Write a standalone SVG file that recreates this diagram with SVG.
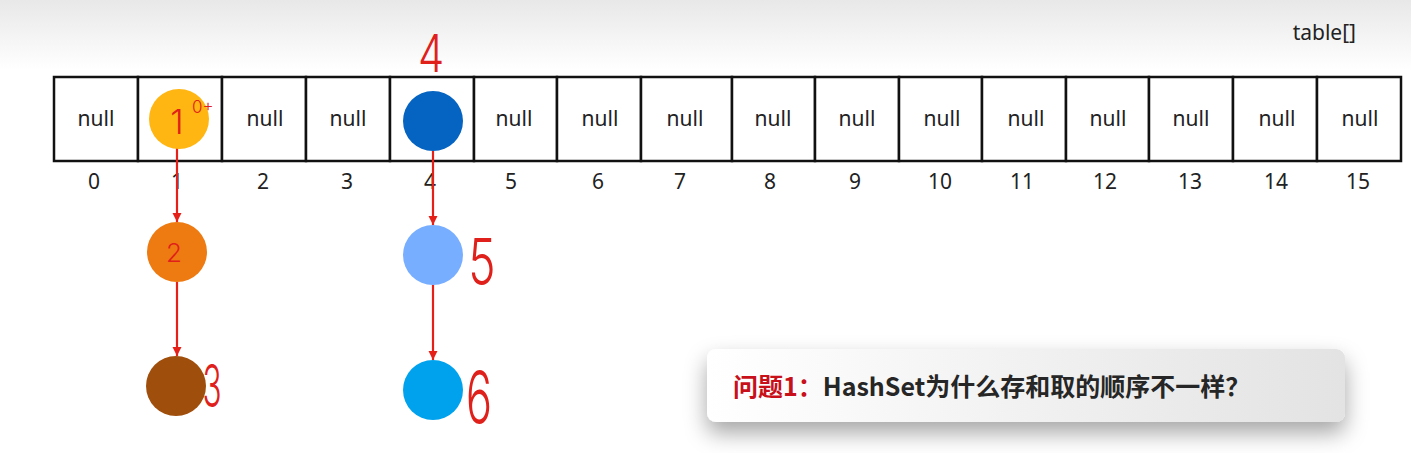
<svg xmlns="http://www.w3.org/2000/svg" width="1411" height="453" viewBox="0 0 1411 453">
<defs>
  <linearGradient id="topfade" x1="0" y1="0" x2="0" y2="1">
    <stop offset="0" stop-color="#E8E8E8"/>
    <stop offset="1" stop-color="#FFFFFF"/>
  </linearGradient>
  <linearGradient id="boxfill" x1="0" y1="0" x2="1" y2="0">
    <stop offset="0" stop-color="#FFFFFF"/>
    <stop offset="0.4" stop-color="#F4F4F4"/>
    <stop offset="1" stop-color="#E3E3E3"/>
  </linearGradient>
  <filter id="shadow" x="-10%" y="-30%" width="120%" height="200%">
    <feDropShadow dx="0" dy="11" stdDeviation="11" flood-color="#000" flood-opacity="0.35"/>
  </filter>
  <marker id="arr" viewBox="0 0 10 10" refX="10" refY="5" markerWidth="9" markerHeight="10" markerUnits="userSpaceOnUse" orient="auto">
    <path d="M0,0 L10,5 L0,10 z" fill="#E52019"/>
  </marker>
  <style>
    .cell { fill: #FFFFFF; stroke: #111; stroke-width: 2.5; }
    .null { font-family: "Noto Sans", "Open Sans", sans-serif; font-size: 21px; fill: #222; text-anchor: middle; }
    .idx { font-family: "Noto Sans", "Open Sans", sans-serif; font-size: 21px; fill: #222; text-anchor: middle; }
    .hand { font-family: Inter, "DejaVu Sans", sans-serif; font-weight: 300; fill: #E0201A; }
    .link { stroke: #E52019; stroke-width: 2.2; fill: none; marker-end: url(#arr); }
  </style>
</defs>
<rect x="0" y="0" width="1411" height="453" fill="#FFFFFF"/>
<rect x="0" y="0" width="1411" height="70" fill="url(#topfade)"/>
<text x="1356" y="40" class="null" style="text-anchor:end">table[]</text>

<g id="table">
  <rect class="cell" x="54" y="77" width="84" height="84"/>
  <rect class="cell" x="138" y="77" width="84" height="84"/>
  <rect class="cell" x="222" y="77" width="84" height="84"/>
  <rect class="cell" x="306" y="77" width="84" height="84"/>
  <rect class="cell" x="390" y="77" width="84" height="84"/>
  <rect class="cell" x="474" y="77" width="83" height="84"/>
  <rect class="cell" x="557" y="77" width="84" height="84"/>
  <rect class="cell" x="641" y="77" width="91" height="84"/>
  <rect class="cell" x="732" y="77" width="83" height="84"/>
  <rect class="cell" x="815" y="77" width="84" height="84"/>
  <rect class="cell" x="899" y="77" width="83" height="84"/>
  <rect class="cell" x="982" y="77" width="84" height="84"/>
  <rect class="cell" x="1066" y="77" width="83" height="84"/>
  <rect class="cell" x="1149" y="77" width="84" height="84"/>
  <rect class="cell" x="1233" y="77" width="84" height="84"/>
  <rect class="cell" x="1317" y="77" width="84" height="84"/>
  <text class="null" x="96" y="126">null</text>
  <text class="null" x="265" y="126">null</text>
  <text class="null" x="348" y="126">null</text>
  <text class="null" x="514" y="126">null</text>
  <text class="null" x="600" y="126">null</text>
  <text class="null" x="685" y="126">null</text>
  <text class="null" x="773" y="126">null</text>
  <text class="null" x="857" y="126">null</text>
  <text class="null" x="942" y="126">null</text>
  <text class="null" x="1026" y="126">null</text>
  <text class="null" x="1108" y="126">null</text>
  <text class="null" x="1191" y="126">null</text>
  <text class="null" x="1277" y="126">null</text>
  <text class="null" x="1360" y="126">null</text>
  <text class="idx" x="94" y="189">0</text>
  <text class="idx" x="177" y="189">1</text>
  <text class="idx" x="263" y="189">2</text>
  <text class="idx" x="347" y="189">3</text>
  <text class="idx" x="430" y="189">4</text>
  <text class="idx" x="511" y="189">5</text>
  <text class="idx" x="598" y="189">6</text>
  <text class="idx" x="680" y="189">7</text>
  <text class="idx" x="770" y="189">8</text>
  <text class="idx" x="855" y="189">9</text>
  <text class="idx" x="940" y="189">10</text>
  <text class="idx" x="1022" y="189">11</text>
  <text class="idx" x="1105" y="189">12</text>
  <text class="idx" x="1190" y="189">13</text>
  <text class="idx" x="1276" y="189">14</text>
  <text class="idx" x="1358" y="189">15</text>
</g>

<g id="connectors">
  <line class="link" x1="177" y1="148" x2="177" y2="222"/>
  <line class="link" x1="177" y1="282" x2="177" y2="356"/>
  <line class="link" x1="433" y1="151" x2="433" y2="225"/>
  <line class="link" x1="433" y1="285" x2="433" y2="360"/>
</g>

<g id="node1">
  <circle cx="179" cy="119" r="30" fill="#FFB612"/>
  <text class="hand" x="177" y="134" font-size="34" text-anchor="middle">1</text>
  <text class="hand" x="192" y="113" font-size="17">0+</text>
</g>
<g id="node4">
  <circle cx="433" cy="121" r="30" fill="#0563C1"/>
  <text class="hand" x="0" y="0" font-size="52" text-anchor="middle" transform="translate(431 72) scale(0.8 1)">4</text>
</g>
<g id="node2">
  <circle cx="177" cy="252" r="30" fill="#EE7A12"/>
  <text class="hand" x="174" y="262" font-size="26" text-anchor="middle">2</text>
</g>
<g id="node3">
  <circle cx="176" cy="386" r="30" fill="#A04E0C"/>
  <text class="hand" x="0" y="0" font-size="42" text-anchor="middle" transform="translate(212 407) scale(0.75 1.4)">3</text>
</g>
<g id="node5">
  <circle cx="433" cy="255" r="30" fill="#78AEFF"/>
  <text class="hand" x="0" y="0" font-size="46" text-anchor="middle" transform="translate(482 285) scale(1 1.4)">5</text>
</g>
<g id="node6">
  <circle cx="433" cy="390" r="30" fill="#00A2EE"/>
  <text class="hand" x="0" y="0" font-size="48" text-anchor="middle" transform="translate(479 423) scale(0.9 1.5)">6</text>
</g>

<g id="question">
  <rect x="707" y="349" width="638" height="73" rx="9" ry="9" fill="url(#boxfill)" filter="url(#shadow)"/>
  <text x="733" y="396" font-family="'Noto Sans CJK SC', 'Noto Sans', sans-serif" font-weight="bold" font-size="25" fill="#262626"><tspan fill="#C8101A">问题1：</tspan>HashSet为什么存和取的顺序不一样？</text>
</g>
</svg>
